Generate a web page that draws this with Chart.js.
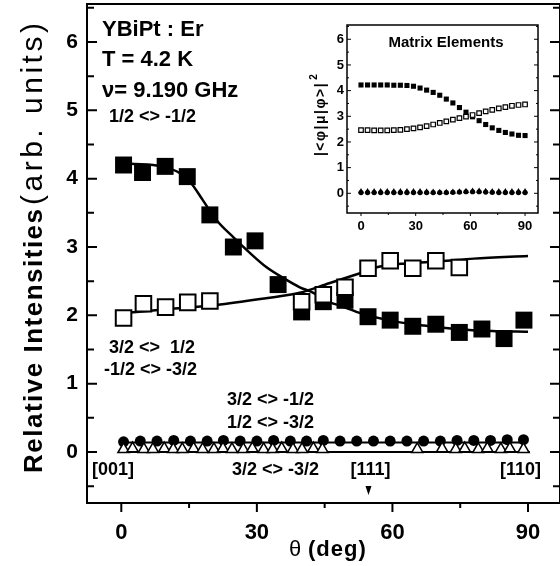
<!DOCTYPE html>
<html>
<head>
<meta charset="utf-8">
<script src="https://cdn.jsdelivr.net/npm/chart.js@4.4.1/dist/chart.umd.min.js"></script>
<style>
html, body { margin: 0; padding: 0; background: #fff; }
#wrap { position: relative; width: 560px; height: 566px; }
#main { position: absolute; left: 0; top: 0; }
#inset { position: absolute; left: 300px; top: 15px; }
</style>
</head>
<body>
<div id="wrap">
<canvas id="main" width="560" height="566"></canvas>
<canvas id="inset" width="250" height="225"></canvas>
</div>
<script>
// measured intensities: 1/2 <> -1/2 (filled squares)
let angA = [0.5, 4.7, 9.7, 14.6, 19.6, 24.8, 29.6, 34.7, 39.9, 44.7, 49.5, 54.6, 59.5, 64.5, 69.6, 74.8, 79.8, 84.7, 89.1];
let intA = [4.20, 4.09, 4.18, 4.03, 3.47, 3.00, 3.09, 2.45, 2.05, 2.20, 2.22, 1.98, 1.93, 1.84, 1.87, 1.75, 1.80, 1.66, 1.93];

// 3/2 <> 1/2, -1/2 <> -3/2 (open squares)
let angB = [0.5, 4.9, 9.8, 14.7, 19.6, 39.9, 44.7, 49.5, 54.6, 59.5, 64.5, 69.6, 74.8];
let intB = [1.96, 2.17, 2.12, 2.19, 2.21, 2.20, 2.30, 2.41, 2.69, 2.80, 2.69, 2.80, 2.70];

// fitted curves
let angFitA = [2, 9, 13, 15.5, 18, 21, 25, 28.5, 32, 36, 39.5, 42.5, 45, 49, 53, 59, 67, 74, 82, 90];
let fitA = [4.22, 4.18, 4.08, 3.93, 3.69, 3.40, 3.13, 2.91, 2.71, 2.54, 2.41, 2.33, 2.22, 2.13, 2.03, 1.93, 1.85, 1.80, 1.77, 1.76];
let angFitB = [0, 10, 21, 32, 39.5, 46, 53, 57, 63, 70.5, 78, 90];
let fitB = [2.03, 2.09, 2.15, 2.25, 2.33, 2.47, 2.62, 2.71, 2.76, 2.79, 2.83, 2.87];

// 3/2 <> -1/2, 1/2 <> -3/2 (filled circles)
let angC = [0.5, 4.2, 7.9, 11.6, 15.3, 19, 22.6, 26.3, 30, 33.7, 37.4, 41, 44.7, 48.4, 52.1, 55.8, 59.5, 63.2, 66.9, 70.6, 74.3, 78, 81.7, 85.4, 89];
let intC = [0.15, 0.16, 0.16, 0.17, 0.16, 0.16, 0.17, 0.16, 0.16, 0.17, 0.16, 0.16, 0.17, 0.16, 0.16, 0.16, 0.16, 0.16, 0.16, 0.16, 0.17, 0.17, 0.17, 0.18, 0.18];
let angFitC = [0, 89];
let fitC = [0.14, 0.14];

// 3/2 <> -3/2 (open triangles)
let angD = [0.5, 2.5, 5, 7, 9.5, 11.5, 13.5, 16, 18, 20.5, 22.5, 24.5, 27, 29, 31.5, 33.5, 35.5, 38, 40, 42.5, 44.5, 65.5, 71, 74, 76, 79, 81, 84, 86, 89];
let intD = [0.04, 0.05, 0.04, 0.04, 0.05, 0.04, 0.04, 0.05, 0.04, 0.04, 0.05, 0.04, 0.04, 0.05, 0.04, 0.04, 0.05, 0.04, 0.04, 0.05, 0.04, 0.04, 0.05, 0.04, 0.05, 0.04, 0.05, 0.04, 0.05, 0.04];
let angFitD = [-0.3, 90.4];
let fitD = [0.0, 0.0];

// inset: calculated matrix elements
let angM = [0, 3.6, 7.2, 10.8, 14.4, 18, 21.6, 25.2, 28.8, 32.4, 36, 39.6, 43.2, 46.8, 50.4, 54, 57.6, 61.2, 64.8, 68.4, 72, 75.6, 79.2, 82.8, 86.4, 90];
let matA = [4.22, 4.22, 4.22, 4.22, 4.22, 4.21, 4.21, 4.20, 4.17, 4.10, 4.02, 3.93, 3.82, 3.67, 3.52, 3.34, 3.16, 2.98, 2.83, 2.68, 2.55, 2.45, 2.37, 2.31, 2.26, 2.25];
let matB = [2.46, 2.46, 2.45, 2.45, 2.45, 2.46, 2.47, 2.50, 2.53, 2.57, 2.62, 2.68, 2.74, 2.80, 2.87, 2.93, 2.99, 3.05, 3.12, 3.19, 3.25, 3.31, 3.36, 3.41, 3.44, 3.46];
let matC = [0.03, 0.03, 0.03, 0.03, 0.03, 0.03, 0.03, 0.03, 0.03, 0.03, 0.03, 0.03, 0.03, 0.03, 0.04, 0.05, 0.06, 0.06, 0.06, 0.05, 0.04, 0.03, 0.03, 0.03, 0.03, 0.03];
let matD = [0.07, 0.07, 0.07, 0.07, 0.07, 0.07, 0.07, 0.07, 0.07, 0.07, 0.06, 0.05, 0.04, 0.04, 0.05, 0.06, 0.08, 0.09, 0.09, 0.08, 0.07, 0.07, 0.07, 0.07, 0.07, 0.07];

let yTicks = [-0.5, 0, 0.5, 1, 1.5, 2, 2.5, 3, 3.5, 4, 4.5, 5, 5.5, 6, 6.5];
let xTicks = [0, 15, 30, 45, 60, 75, 90];

const FONT = "'Liberation Sans', Arial, Helvetica, sans-serif";

function pts(xs, ys) {
    return xs.map((v, i) => ({x: v, y: ys[i]}));
}

// frame plus inward ticks on y, outward ticks on x
const frameTicks = {
    id: 'frameTicks',
    afterDatasetsDraw(chart, args, o) {
        const {ctx, chartArea: a, scales: {x, y}} = chart;
        ctx.save();
        ctx.strokeStyle = '#000';
        ctx.lineWidth = o.tickWidth;
        ctx.beginPath();
        y.ticks.forEach(t => {
            const py = y.getPixelForValue(t.value);
            const len = Number.isInteger(t.value) ? o.yMajor : o.yMinor;
            ctx.moveTo(a.left, py);
            ctx.lineTo(a.left + len, py);
            ctx.moveTo(a.right, py);
            ctx.lineTo(a.right - len, py);
        });
        x.ticks.forEach(t => {
            const px = x.getPixelForValue(t.value);
            const len = t.value % 30 === 0 ? o.xMajor : o.xMinor;
            ctx.moveTo(px, a.bottom);
            ctx.lineTo(px, a.bottom + len);
        });
        ctx.stroke();
        ctx.lineWidth = o.frameWidth;
        ctx.strokeRect(a.left, a.top, a.right - a.left, a.bottom - a.top);
        ctx.restore();
    }
};

// text annotations and axis titles of the main plot
const mainNotes = {
    id: 'mainNotes',
    afterDraw(chart) {
        const {ctx, scales: {x}} = chart;
        ctx.save();
        ctx.fillStyle = '#000';
        ctx.textBaseline = 'alphabetic';
        ctx.textAlign = 'left';

        ctx.font = 'bold 22px ' + FONT;
        ctx.fillText('YBiPt : Er', 102, 36);
        ctx.fillText('T = 4.2 K', 102, 66);
        ctx.fillText('\u03bd= 9.190 GHz', 102, 97);

        ctx.font = 'bold 18px ' + FONT;
        ctx.fillText('1/2 <> -1/2', 109, 122);
        ctx.fillText('3/2 <>  1/2', 109, 353);
        ctx.fillText('-1/2 <> -3/2', 104, 375);
        ctx.fillText('3/2 <> -1/2', 227, 405);
        ctx.fillText('1/2 <> -3/2', 227, 428);
        ctx.fillText('3/2 <> -3/2', 232, 475);
        ctx.fillText('[001]', 92, 475);
        ctx.fillText('[110]', 500, 475);
        ctx.textAlign = 'center';
        const p111 = x.getPixelForValue(54.7);
        ctx.fillText('[111]', p111 + 2, 475);

        // arrow marking [111]
        ctx.beginPath();
        ctx.moveTo(p111 - 3, 486);
        ctx.lineTo(p111 + 3, 486);
        ctx.lineTo(p111, 495);
        ctx.closePath();
        ctx.fill();

        // x title
        ctx.textAlign = 'left';
        ctx.font = '22px ' + FONT;
        ctx.fillText('\u03b8', 289, 556);
        ctx.font = 'bold 22px ' + FONT;
        ctx.letterSpacing = '1px';
        ctx.fillText('(deg)', 308, 556);

        // y title
        ctx.translate(42, 473);
        ctx.rotate(-Math.PI / 2);
        ctx.font = 'bold 26px ' + FONT;
        ctx.letterSpacing = '1.5px';
        ctx.fillText('Relative Intensities', 0, 0);
        ctx.font = '30px ' + FONT;
        ctx.letterSpacing = '3.5px';
        ctx.fillText('(arb. units)', 268, 0);
        ctx.restore();
    }
};

const insetNotes = {
    id: 'insetNotes',
    afterDraw(chart) {
        const {ctx} = chart;
        ctx.save();
        ctx.fillStyle = '#000';
        ctx.textAlign = 'center';
        ctx.font = 'bold 15px ' + FONT;
        ctx.fillText('Matrix Elements', 146, 32);

        ctx.translate(25, 104);
        ctx.rotate(-Math.PI / 2);
        ctx.font = 'bold 14px ' + FONT;
        ctx.letterSpacing = '1.5px';
        ctx.fillText('|<\u03c6|\u03bc|\u03c6>|', 0, 0);
        ctx.font = 'bold 10px ' + FONT;
        ctx.letterSpacing = '0px';
        ctx.fillText('2', 42, -8);
        ctx.restore();
    }
};

function axes(o) {
    return {
        x: {
            type: 'linear', min: o.xmin, max: o.xmax,
            grid: {display: false, drawTicks: false}, border: {display: false},
            afterBuildTicks: s => { s.ticks = xTicks.map(v => ({value: v})); },
            afterFit: s => { s.height = o.xh; s.paddingLeft = 0; s.paddingRight = 0; },
            ticks: {
                autoSkip: false, maxRotation: 0, padding: o.xpad, color: '#000',
                font: {family: FONT, weight: 'bold', size: o.xfont},
                callback: v => (v % 30 === 0 ? String(v) : '')
            }
        },
        y: {
            type: 'linear', min: o.ymin, max: o.ymax,
            grid: {display: false, drawTicks: false}, border: {display: false},
            afterBuildTicks: s => { s.ticks = yTicks.map(v => ({value: v})); },
            afterFit: s => { s.width = o.yw; s.paddingTop = 0; s.paddingBottom = 0; },
            ticks: {
                autoSkip: false, padding: o.ypad, color: '#000',
                font: {family: FONT, weight: 'bold', size: o.yfont},
                callback: v => (Number.isInteger(v) && v >= 0 ? String(v) : '')
            }
        }
    };
}

new Chart(document.getElementById('main'), {
    type: 'scatter',
    data: {
        datasets: [
            {data: pts(angD, intD), pointStyle: 'triangle', pointRadius: 6.5, backgroundColor: '#fff', borderColor: '#000', borderWidth: 1.5, order: 0},
            {data: pts(angC, intC), pointStyle: 'circle', pointRadius: 5.5, backgroundColor: '#000', borderColor: '#000', borderWidth: 0, order: 1},
            {data: pts(angB, intB), pointStyle: 'rect', pointRadius: 11, backgroundColor: '#fff', borderColor: '#000', borderWidth: 2, order: 2},
            {data: pts(angA, intA), pointStyle: 'rect', pointRadius: 12, backgroundColor: '#000', borderColor: '#000', borderWidth: 0, order: 3},
            {data: pts(angFitA, fitA), showLine: true, pointRadius: 0, borderColor: '#000', borderWidth: 2.5, cubicInterpolationMode: 'monotone', order: 4},
            {data: pts(angFitB, fitB), showLine: true, pointRadius: 0, borderColor: '#000', borderWidth: 2.5, cubicInterpolationMode: 'monotone', order: 5},
            {data: pts(angFitC, fitC), showLine: true, pointRadius: 0, borderColor: '#000', borderWidth: 2, order: 6},
            {data: pts(angFitD, fitD), showLine: true, pointRadius: 0, borderColor: '#000', borderWidth: 2, order: 7}
        ]
    },
    options: {
        responsive: false,
        animation: false,
        layout: {autoPadding: false, padding: {left: 0, top: 4, right: 0, bottom: 0}},
        plugins: {
            legend: {display: false},
            tooltip: {enabled: false},
            frameTicks: {frameWidth: 2, tickWidth: 2, yMajor: 10, yMinor: 7, xMajor: 9, xMinor: 5}
        },
        scales: axes({xmin: -7.59, xmax: 97.08, ymin: -0.746, ymax: 6.556, xh: 63, yw: 87, xpad: 17, ypad: 9, xfont: 22, yfont: 21})
    },
    plugins: [frameTicks, mainNotes]
});

new Chart(document.getElementById('inset'), {
    type: 'scatter',
    data: {
        datasets: [
            {data: pts(angM, matD), pointStyle: 'triangle', pointRadius: 3.5, backgroundColor: '#000', borderWidth: 0, order: 0},
            {data: pts(angM, matC), pointStyle: 'circle', pointRadius: 2.6, backgroundColor: '#000', borderWidth: 0, order: 1},
            {data: pts(angM, matB), pointStyle: 'rect', pointRadius: 3.2, backgroundColor: '#fff', borderColor: '#000', borderWidth: 1.2, order: 2},
            {data: pts(angM, matA), pointStyle: 'rect', pointRadius: 3.6, backgroundColor: '#000', borderWidth: 0, order: 3}
        ]
    },
    options: {
        responsive: false,
        animation: false,
        layout: {autoPadding: false, padding: {left: 0, top: 10, right: 12, bottom: 0}},
        plugins: {
            legend: {display: false},
            tooltip: {enabled: false},
            frameTicks: {frameWidth: 1.5, tickWidth: 1, yMajor: 4, yMinor: 2, xMajor: 3, xMinor: 2}
        },
        scales: axes({xmin: -7.68, xmax: 97.1, ymin: -0.767, ymax: 6.556, xh: 27, yw: 47, xpad: 6, ypad: 3, xfont: 13, yfont: 13})
    },
    plugins: [frameTicks, insetNotes]
});
</script>
</body>
</html>
